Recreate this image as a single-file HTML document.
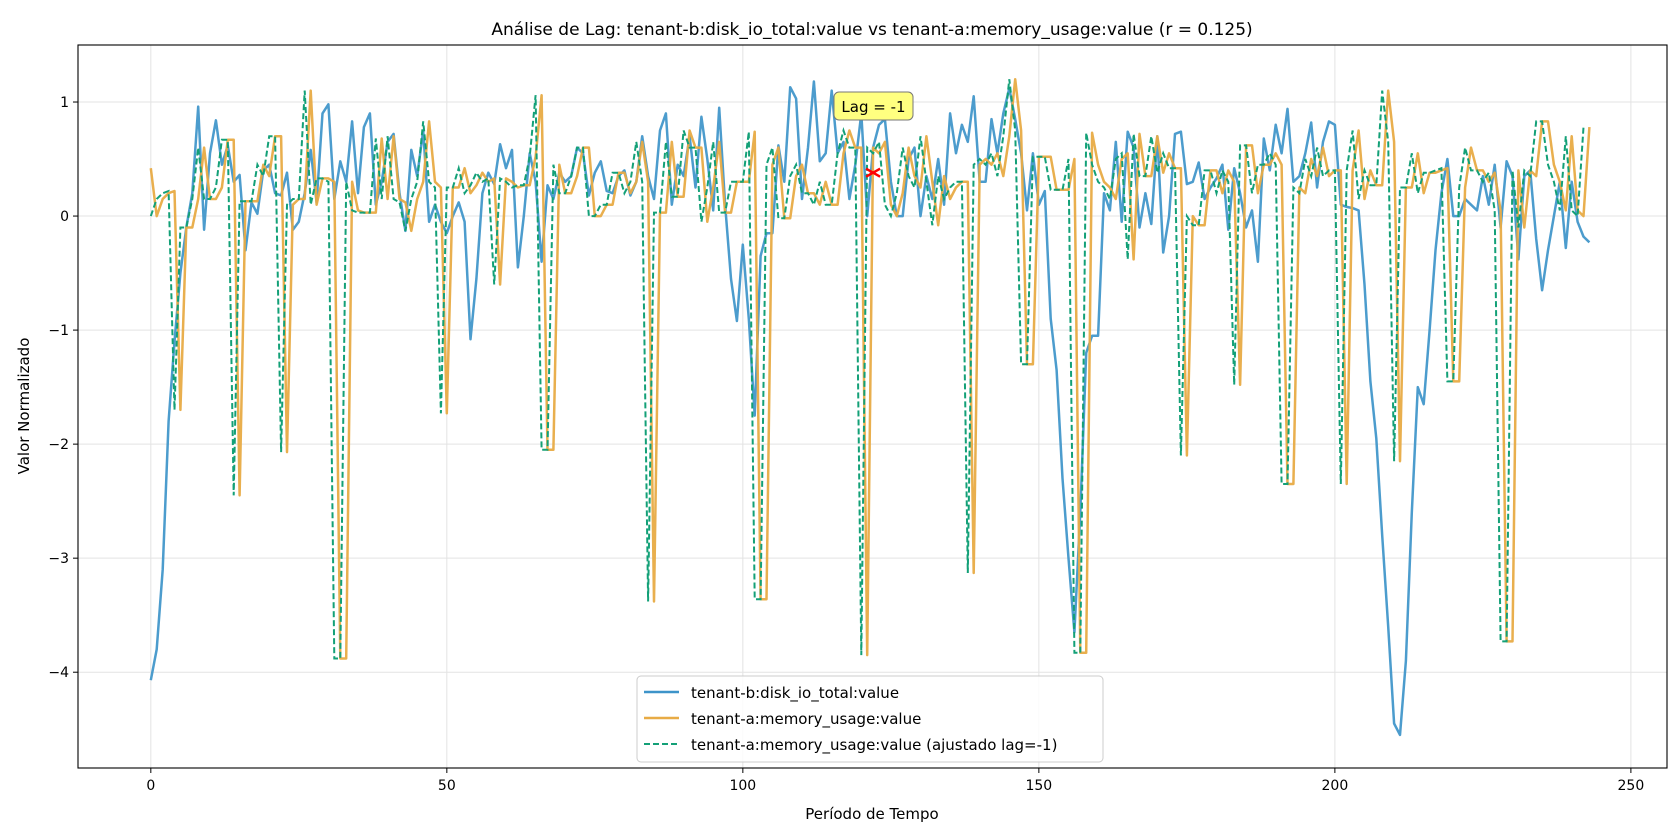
<!DOCTYPE html>
<html><head><meta charset="utf-8"><style>
body{margin:0;background:#fff;}
svg{display:block;font-family:"DejaVu Sans","Liberation Sans",sans-serif;}
</style></head><body>
<svg id="chart" width="1680" height="840" viewBox="0 0 1680 840" xmlns="http://www.w3.org/2000/svg">
<rect width="1680" height="840" fill="#fff"/>
<g id="grid"></g>
<g id="series"></g>
<rect x="78" y="45" width="1589" height="723" fill="none" stroke="#000" stroke-width="1.1"/>
<g id="axes"></g>
<text x="872" y="35" font-size="17" text-anchor="middle">Análise de Lag: tenant-b:disk_io_total:value vs tenant-a:memory_usage:value (r = 0.125)</text>
<text x="872" y="819" font-size="15" text-anchor="middle">Período de Tempo</text>
<text x="29" y="406" font-size="15" text-anchor="middle" transform="rotate(-90 29 406)">Valor Normalizado</text>
<g id="legend">
<rect x="637" y="676" width="466" height="86" rx="4" fill="#fff" fill-opacity="0.85" stroke="#ccc"/>
<line x1="644" y1="692" x2="679" y2="692" stroke="#3d94c9" stroke-width="2.5"/>
<text x="691" y="698" font-size="15">tenant-b:disk_io_total:value</text>
<line x1="644" y1="718" x2="679" y2="718" stroke="#e8ab45" stroke-width="2.5"/>
<text x="691" y="724" font-size="15">tenant-a:memory_usage:value</text>
<line x1="644" y1="744" x2="679" y2="744" stroke="#13a077" stroke-width="2" stroke-dasharray="6,3"/>
<text x="691" y="750" font-size="15">tenant-a:memory_usage:value (ajustado lag=-1)</text>
</g>
</svg>
<script>
const xTicks=[0,50,100,150,200,250];
const yTicks=[1,0,-1,-2,-3,-4];
const yTickLabels=["1","0","\u22121","\u22122","\u22123","\u22124"];
const blue=[-4.07,-3.8,-3.1,-1.8,-1.1,-0.5,-0.1,0.2,0.96,-0.12,
0.55,0.84,0.45,0.62,0.3,0.36,-0.3,0.12,0.02,0.4,
0.45,0.2,0.18,0.38,-0.12,-0.05,0.2,0.58,0.12,0.9,
0.98,0.15,0.48,0.3,0.83,0.2,0.78,0.9,0.1,0.3,
0.65,0.72,0.2,-0.13,0.58,0.35,0.75,-0.05,0.1,-0.05,
-0.15,0.0,0.12,-0.05,-1.08,-0.55,0.2,0.38,0.28,0.63,
0.42,0.58,-0.45,0.0,0.55,0.3,-0.4,0.27,0.15,0.38,
0.3,0.35,0.6,0.55,0.18,0.38,0.48,0.22,0.2,0.35,
0.4,0.18,0.3,0.7,0.35,0.15,0.75,0.9,0.1,0.45,
0.35,0.7,0.25,0.87,0.5,0.05,0.95,0.1,-0.55,-0.92,
-0.25,-0.9,-1.75,-0.35,-0.15,-0.15,0.62,0.3,1.13,1.03,
0.15,0.6,1.18,0.48,0.55,1.1,0.55,0.65,0.15,0.45,
0.9,0.0,0.6,0.8,0.85,0.3,0.0,0.0,0.5,0.6,
0.0,0.35,0.15,0.5,0.1,0.9,0.55,0.8,0.65,1.05,
0.3,0.3,0.85,0.55,0.9,1.12,0.85,0.55,0.05,0.55,
0.1,0.22,-0.9,-1.35,-2.3,-3.0,-3.65,-2.6,-1.2,-1.05,
-1.05,0.2,0.05,0.65,-0.05,0.74,0.6,-0.1,0.2,-0.07,
0.7,-0.32,0.0,0.72,0.74,0.28,0.3,0.47,0.15,0.25,
0.33,0.45,-0.12,0.42,0.2,-0.1,0.05,-0.4,0.68,0.4,
0.8,0.55,0.94,0.3,0.35,0.55,0.82,0.25,0.65,0.83,
0.8,0.1,0.08,0.07,0.05,-0.6,-1.45,-1.95,-2.8,-3.6,
-4.45,-4.55,-3.9,-2.6,-1.5,-1.65,-1.0,-0.3,0.2,0.5,
0.0,0.0,0.15,0.1,0.05,0.35,0.1,0.45,-0.1,0.48,
0.35,-0.38,0.35,0.4,-0.2,-0.65,-0.3,0.0,0.3,-0.28,
0.3,-0.05,-0.18,-0.23];
const orange=[0.42,0.0,0.15,0.2,0.22,-1.7,-0.1,-0.1,0.15,0.6,
0.15,0.15,0.25,0.67,0.67,-2.45,0.13,0.13,0.13,0.45,
0.35,0.7,0.7,-2.07,0.1,0.15,0.15,1.1,0.1,0.33,
0.33,0.3,-3.88,-3.88,0.3,0.05,0.03,0.03,0.03,0.68,
0.15,0.7,0.15,0.12,-0.13,0.15,0.3,0.83,0.3,0.25,
-1.73,0.25,0.25,0.42,0.2,0.27,0.38,0.3,0.33,-0.6,
0.33,0.3,0.25,0.27,0.27,0.52,1.06,-2.05,-2.05,0.45,
0.2,0.2,0.35,0.6,0.6,0.0,0.0,0.1,0.1,0.38,
0.38,0.2,0.3,0.65,0.3,-3.38,0.03,0.03,0.65,0.17,
0.17,0.75,0.6,0.6,-0.05,0.25,0.65,0.03,0.03,0.3,
0.3,0.3,0.74,-3.36,-3.36,0.45,0.6,-0.02,-0.02,0.35,
0.45,0.2,0.2,0.1,0.3,0.1,0.1,0.55,0.75,0.6,
0.6,-3.85,0.6,0.55,0.65,0.1,0.0,0.2,0.6,0.35,
0.25,0.7,0.3,-0.08,0.35,0.15,0.25,0.3,0.3,-3.13,
0.45,0.5,0.45,0.55,0.35,0.7,1.2,0.75,-1.3,-1.3,
0.52,0.52,0.52,0.23,0.23,0.23,0.5,-3.83,-3.83,0.73,
0.45,0.3,0.25,0.15,0.5,0.55,-0.38,0.72,0.35,0.35,
0.7,0.38,0.55,0.42,0.42,-2.1,0.0,-0.08,-0.08,0.4,
0.4,0.2,0.4,0.3,-1.48,0.62,0.62,0.2,0.45,0.45,
0.55,0.45,-2.35,-2.35,0.25,0.2,0.5,0.35,0.6,0.35,
0.4,0.4,-2.35,0.4,0.75,0.15,0.4,0.27,0.27,1.1,
0.65,-2.15,0.25,0.25,0.55,0.2,0.38,0.38,0.4,0.42,
-1.45,-1.45,0.25,0.6,0.4,0.4,0.3,0.38,0.05,-3.73,
-3.73,0.4,-0.1,0.4,0.35,0.83,0.83,0.45,0.3,0.05,
0.7,0.05,0.0,0.78];
const lag=-1;
const markerX=[122];
const markerY=[0.38];

const NS="http://www.w3.org/2000/svg";
const X0=-12.3,X1=256.1,Y0=-4.84,Y1=1.5;
const L=78,R=1667,T=45,B=768;
const sx=v=>L+(v-X0)/(X1-X0)*(R-L);
const sy=v=>B-(v-Y0)/(Y1-Y0)*(B-T);
function mk(tag,attrs,parent){const e=document.createElementNS(NS,tag);for(const k in attrs)e.setAttribute(k,attrs[k]);parent.appendChild(e);return e;}
const grid=document.getElementById('grid'),axes=document.getElementById('axes'),ser=document.getElementById('series');
xTicks.forEach(t=>{
  const g=mk('line',{x1:sx(t),x2:sx(t),y1:T,y2:B,stroke:'#e3e3e3','stroke-width':1},grid);
  
  
  const tk=mk('line',{x1:sx(t),x2:sx(t),y1:B,y2:B+5,stroke:'#000'},axes);
  
  
  const lb=mk('text',{x:sx(t),y:B+22,'font-size':14,'text-anchor':'middle'},axes);
  lb.textContent=String(t);
  
  
});
yTicks.forEach((t,i)=>{
  const g=mk('line',{x1:L,x2:R,y1:sy(t),y2:sy(t),stroke:'#e3e3e3','stroke-width':1},grid);
  
  
  const tk=mk('line',{x1:L-5,x2:L,y1:sy(t),y2:sy(t),stroke:'#000'},axes);
  
  
  const lb=mk('text',{x:L-9,y:sy(t)+5,'font-size':14,'text-anchor':'end'},axes);
  lb.textContent=yTickLabels[i];
  
  
});
function path(arr,off){return arr.map((v,i)=>(i?'L':'M')+sx(i+off).toFixed(1)+','+sy(v).toFixed(1)).join(' ');}
const pb=mk('path',{d:path(blue,0),fill:'none',stroke:'#3d94c9','stroke-width':2.5,'stroke-opacity':0.92,'stroke-linejoin':'round'},ser);


const po=mk('path',{d:path(orange,0),fill:'none',stroke:'#e8ab45','stroke-width':2.5,'stroke-opacity':0.95,'stroke-linejoin':'round'},ser);


const shifted=orange.slice(-lag);
const pg=mk('path',{d:path(shifted,0),fill:'none',stroke:'#13a077','stroke-width':2,'stroke-dasharray':'6,3'},ser);


const mx=sx(markerX[0]),my=sy(markerY[0]);
const m=mk('path',{d:`M${mx-7},${my-4}L${mx+7},${my+4}M${mx-7},${my+4}L${mx+7},${my-4}`,stroke:'#f00','stroke-width':2.5},ser);


const bx=mk('rect',{x:834,y:92,width:79,height:28,rx:5,fill:'#ffff80',stroke:'#777','stroke-width':1},ser);


const bt=mk('text',{x:873.5,y:112,'font-size':15,'text-anchor':'middle'},ser);
bt.textContent='Lag = -1';


</script>
</body></html>
